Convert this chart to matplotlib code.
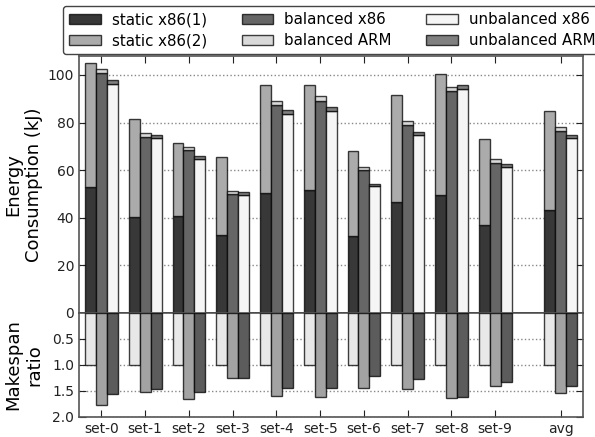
import numpy as np
import matplotlib
matplotlib.use('Agg')
import matplotlib.pyplot as plt

sets = ['set-0', 'set-1', 'set-2', 'set-3', 'set-4', 'set-5', 'set-6', 'set-7', 'set-8', 'set-9', 'avg']

# energy (kJ)
static_x86_1 = [52.8, 40.5, 40.9, 32.8, 50.3, 51.7, 32.4, 46.5, 49.6, 36.8, 43.3]
static_total = [104.9, 81.4, 71.6, 65.5, 95.7, 95.9, 68.1, 91.6, 100.3, 73.2, 84.9]
balanced_x86 = [101.0, 74.1, 68.3, 50.0, 87.5, 89.2, 60.1, 78.9, 93.4, 62.9, 76.5]
balanced_total = [102.6, 75.6, 69.7, 51.3, 89.2, 91.0, 61.2, 80.5, 95.1, 64.6, 78.2]
unbalanced_x86 = [96.4, 73.5, 64.7, 49.6, 83.6, 84.9, 53.2, 74.7, 94.0, 61.2, 73.5]
unbalanced_total = [97.9, 74.8, 66.0, 50.7, 85.2, 86.4, 54.2, 76.2, 95.7, 62.6, 74.9]

# makespan ratio
ms_static = [1.0] * 11
ms_balanced = [1.77, 1.53, 1.65, 1.25, 1.59, 1.61, 1.45, 1.46, 1.64, 1.41, 1.54]
ms_unbalanced = [1.56, 1.46, 1.52, 1.25, 1.44, 1.45, 1.22, 1.27, 1.62, 1.32, 1.41]

x = np.array(list(range(10)) + [10.5])
w = 0.25

static_x86_2 = np.array(static_total) - np.array(static_x86_1)
balanced_arm = np.array(balanced_total) - np.array(balanced_x86)
unbalanced_arm = np.array(unbalanced_total) - np.array(unbalanced_x86)

fig = plt.figure(figsize=(5.95, 4.37), dpi=100)
ax1 = fig.add_axes([0.133, 0.284, 0.847, 0.588])
ax2 = fig.add_axes([0.133, 0.046, 0.847, 0.238], sharex=ax1)

ec = (0, 0, 0, 0.75)
kw = dict(width=w, edgecolor=ec, linewidth=1.0, zorder=3)

ax1.bar(x - w, static_x86_1, color='#383838', label='static x86(1)', **kw)
ax1.bar(x - w, static_x86_2, bottom=static_x86_1, color='#ababab', label='static x86(2)', **kw)
ax1.bar(x, balanced_x86, color='#666666', label='balanced x86', **kw)
ax1.bar(x, balanced_arm, bottom=balanced_x86, color='#d9d9d9', label='balanced ARM', **kw)
ax1.bar(x + w, unbalanced_x86, color='#f5f5f5', label='unbalanced x86', **kw)
ax1.bar(x + w, unbalanced_arm, bottom=unbalanced_x86, color='#808080', label='unbalanced ARM', **kw)

ax2.bar(x - w, ms_static, color='#e8e8e8', **kw)
ax2.bar(x, ms_balanced, color='#a3a3a3', **kw)
ax2.bar(x + w, ms_unbalanced, color='#5c5c5c', **kw)

ax1.set_xlim(-0.51, 11.01)
ax1.set_ylim(0, 108)
ax1.set_yticks([0, 20, 40, 60, 80, 100])
ax2.set_ylim(2.0, 0)
ax2.set_yticks([0.5, 1.0, 1.5, 2.0])
ax2.set_xticks(x)
ax2.set_xticklabels(sets)
plt.setp(ax1.get_xticklabels(), visible=False)

for ax in (ax1, ax2):
    ax.grid(axis='y', linestyle=':', color='#888888', linewidth=1, zorder=0)
    ax.tick_params(direction='in', top=True, right=True, labelsize=10, length=5, colors='#222222')
    for s in ax.spines.values():
        s.set_color('#555555')
        s.set_linewidth(1.2)
ax1.spines['bottom'].set_color('black')

ax1.set_ylabel('Energy\nConsumption (kJ)', fontsize=13)
ax2.set_ylabel('Makespan\nratio', fontsize=13)
ax1.yaxis.set_label_coords(-0.071, 0.5)
ax2.yaxis.set_label_coords(-0.071, 0.5)

fig.legend(loc='upper left', bbox_to_anchor=(0.106, 0.986), ncol=3, fontsize=10.8,
           handlelength=2.1, columnspacing=2.3, handletextpad=0.75, labelspacing=0.4,
           borderaxespad=0, framealpha=1, edgecolor='#444444', fancybox=True)

fig.savefig('out.png', dpi=100)
